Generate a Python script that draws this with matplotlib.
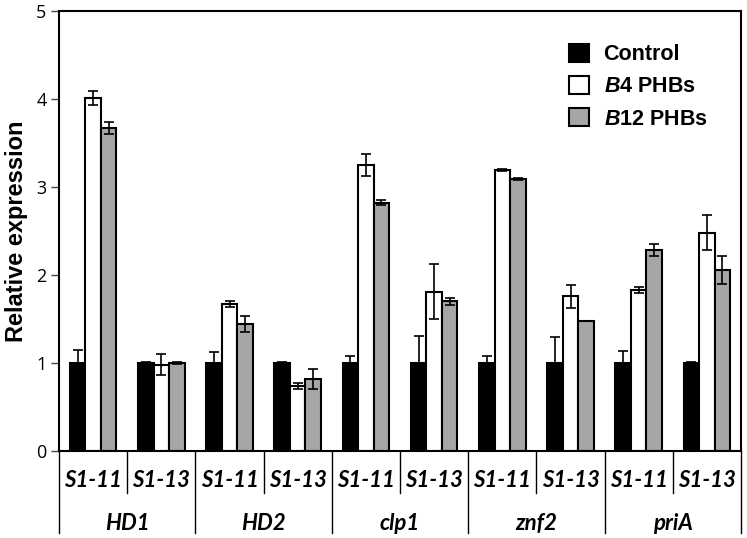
import numpy as np
import matplotlib.pyplot as plt

plt.rcParams['mathtext.fontset'] = 'custom'
plt.rcParams['mathtext.it'] = 'Liberation Sans:italic:bold'
plt.rcParams['mathtext.rm'] = 'Liberation Sans:bold'

# données
genes = ['HD1', 'HD2', 'clp1', 'znf2', 'priA']
lignees = ['S1-11', 'S1-13']
series = ['Control', '$\\mathit{B4}$ PHBs', '$\\mathit{B12}$ PHBs']

control = [1.0, 1.0, 1.0, 1.0, 1.0, 1.0, 1.0, 1.0, 1.0, 1.0]
control_err = [0.15, 0.01, 0.12, 0.01, 0.08, 0.31, 0.08, 0.29, 0.14, 0.01]
b4 = [4.01, 0.98, 1.67, 0.74, 3.25, 1.81, 3.19, 1.76, 1.83, 2.48]
b4_err = [0.08, 0.12, 0.03, 0.03, 0.12, 0.31, 0.01, 0.13, 0.03, 0.20]
b12 = [3.67, 1.0, 1.44, 0.82, 2.82, 1.70, 3.09, 1.48, 2.28, 2.06]
b12_err = [0.07, 0.01, 0.09, 0.11, 0.03, 0.04, 0.01, 0.0, 0.07, 0.16]

couleurs = ['black', 'white', '#a6a6a6']

fig = plt.figure(figsize=(7.47, 5.38), dpi=100)
ax = fig.add_axes([0.079, 0.1617, 0.913, 0.818])

x = np.arange(len(control))
w = 0.227
for k, (vals, errs) in enumerate([(control, control_err), (b4, b4_err), (b12, b12_err)]):
    ax.bar(x + (k - 1) * w, vals, w, color=couleurs[k], edgecolor='black',
           linewidth=1.5, label=series[k], zorder=2)
    ax.errorbar(x + (k - 1) * w, vals, yerr=errs, fmt='none', ecolor='black',
                elinewidth=1.2, capsize=3.5, capthick=1.2, zorder=3)

ax.set_xlim(-0.5, 9.5)
ax.set_ylim(0, 5)
ax.set_yticks([0, 1, 2, 3, 4, 5])
ax.set_yticklabels(['0', '1', '2', '3', '4', '5'], fontsize=13, family='Open Sans')
ax.tick_params(axis='y', direction='out', length=6, width=1, color='#444444', pad=3)
ax.set_xticks([])
for s in ax.spines.values():
    s.set_linewidth(1.5)
ax.set_ylabel('Relative expression', fontsize=17, fontweight='bold',
              family='Liberation Sans', labelpad=6)

# étiquettes hiérarchiques sous l'axe
tr = ax.get_xaxis_transform()
for i in range(10):
    ax.text(i, -0.066, lignees[i % 2], transform=tr, ha='center', va='center',
            fontsize=16, fontweight='bold', fontstyle='italic', family='Lato')
for g in range(5):
    ax.text(2 * g + 0.5, -0.164, genes[g], transform=tr, ha='center', va='center',
            fontsize=16, fontweight='bold', fontstyle='italic', family='Lato')
for b in range(11):
    bas = -0.186 if b % 2 == 0 else -0.0955
    ax.plot([b - 0.5, b - 0.5], [0, bas], transform=tr, color='black',
            linewidth=1.0, clip_on=False)

leg = ax.legend(loc='upper left', bbox_to_anchor=(0.748, 0.925), frameon=False,
                prop={'family': 'Liberation Sans', 'weight': 'bold', 'size': 15.5},
                handlelength=0.9, handleheight=0.9, labelspacing=0.5,
                handletextpad=0.7, borderpad=0, borderaxespad=0)

fig.savefig('out.png', dpi=100)
